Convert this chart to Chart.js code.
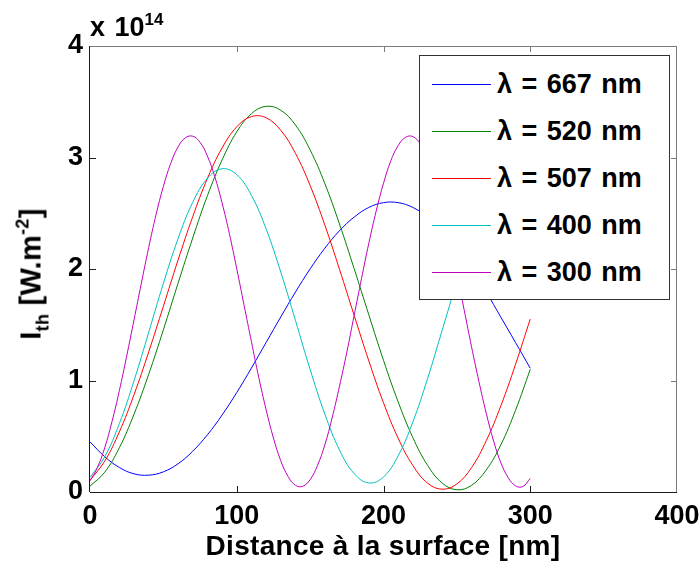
<!DOCTYPE html>
<html>
<head>
<meta charset="utf-8">
<script src="https://cdn.jsdelivr.net/npm/chart.js@4"></script>
<style>
    body { margin: 0; background: #fff; }
    #wrap { position: relative; width: 700px; height: 564px; font-family: 'Liberation Sans', Arial, Helvetica, sans-serif; font-weight: bold; color: #000; }
    #chart { position: absolute; left: 0; top: 0; }
    .lbl { position: absolute; white-space: nowrap; line-height: 1; }
    #ytitle { font-size: 29px; left: 31px; top: 274px; transform: translate(-50%, -50%) rotate(-90deg); letter-spacing: 0.3px; }
    #ytitle .sub { font-size: 18px; position: relative; top: 8px; }
    #ytitle .sup { font-size: 18px; position: relative; top: -12px; }
    #xtitle { font-size: 28px; left: 383px; top: 532px; transform: translateX(-50%); letter-spacing: 0.3px; }
    #expo { font-size: 27px; left: 90px; top: 14px; word-spacing: 2px; }
    #expo .sup { font-size: 17px; position: relative; top: -11px; }
    #legend { position: absolute; left: 419px; top: 55px; width: 249px; height: 243px; background: #fff; border: 1px solid #333; }
    .item { position: absolute; left: 0; height: 30px; width: 100%; }
    .item .ln { position: absolute; left: 12px; width: 59px; top: 14px; height: 1px; }
    .item .tx { position: absolute; left: 77px; top: 1px; font-size: 27px; line-height: 1; word-spacing: 2px; }
</style>
</head>
<body>
<div id="wrap">
    <canvas id="chart" width="700" height="564"></canvas>
    <div id="expo" class="lbl">x 10<span class="sup">14</span></div>
    <div id="ytitle" class="lbl">I<span class="sub">th</span> [W.m<span class="sup">-2</span>]</div>
    <div id="xtitle" class="lbl">Distance à la surface [nm]</div>
    <div id="legend"></div>
</div>
<script>
// Distance (nm)
const distance10 = [0, 10, 20, 30, 40, 50, 60, 70, 80, 90, 100, 110, 120, 130, 140, 150, 160, 170, 180, 190, 200, 210, 220, 230, 240, 250, 260, 270, 280, 290, 300];
const distance5 = [0, 5, 10, 15, 20, 25, 30, 35, 40, 45, 50, 55, 60, 65, 70, 75, 80, 85, 90, 95, 100, 105, 110, 115, 120, 125, 130, 135, 140, 145, 150, 155, 160, 165, 170, 175, 180, 185, 190, 195, 200, 205, 210, 215, 220, 225, 230, 235, 240, 245, 250, 255, 260, 265, 270, 275, 280, 285, 290, 295, 300];

// Ith en unites de 1e14 W.m-2
const ith667 = [0.450, 0.317, 0.220, 0.163, 0.151, 0.181, 0.253, 0.366, 0.513, 0.690, 0.892, 1.112, 1.341, 1.570, 1.793, 2.001, 2.186, 2.343, 2.465, 2.552, 2.595, 2.595, 2.552, 2.466, 2.344, 2.188, 2.005, 1.794, 1.567, 1.340, 1.110];
const ith520 = [0.053, 0.177, 0.397, 0.698, 1.056, 1.455, 1.872, 2.278, 2.657, 2.978, 3.230, 3.393, 3.459, 3.424, 3.291, 3.068, 2.767, 2.404, 2.003, 1.589, 1.181, 0.808, 0.488, 0.240, 0.080, 0.020, 0.060, 0.197, 0.424, 0.734, 1.100];
const ith507 = [0.105, 0.276, 0.539, 0.873, 1.256, 1.666, 2.080, 2.469, 2.812, 3.085, 3.275, 3.367, 3.356, 3.244, 3.037, 2.749, 2.395, 1.998, 1.584, 1.176, 0.800, 0.482, 0.238, 0.080, 0.025, 0.072, 0.219, 0.459, 0.774, 1.146, 1.551];
const ith400 = [0.131, 0.315, 0.613, 0.998, 1.432, 1.871, 2.272, 2.598, 2.813, 2.899, 2.846, 2.660, 2.360, 1.972, 1.539, 1.099, 0.700, 0.377, 0.165, 0.081, 0.135, 0.325, 0.628, 1.016, 1.451, 1.889, 2.288, 2.608, 2.818, 2.899, 2.841];
const ith300 = [0.100, 0.218, 0.395, 0.632, 0.909, 1.219, 1.544, 1.873, 2.193, 2.487,
    2.741, 2.947, 3.095, 3.177, 3.191, 3.136, 3.013, 2.830, 2.593, 2.316,
    2.002, 1.675, 1.348, 1.028, 0.739, 0.484, 0.280, 0.139, 0.060, 0.051,
    0.111, 0.237, 0.422, 0.665, 0.949, 1.253, 1.584, 1.913, 2.231, 2.519,
    2.769, 2.971, 3.107, 3.181, 3.188, 3.123, 2.996, 2.807, 2.563, 2.280,
    1.958, 1.631, 1.302, 0.992, 0.707, 0.458, 0.262, 0.128, 0.055, 0.049,
    0.122];

const xTicks = [0, 100, 200, 300, 400];
const yTicks = [0, 1, 2, 3, 4];

const SERIES = [
    { label: '\u03bb = 667 nm', color: '#0000ff', xs: distance10, ys: ith667 },
    { label: '\u03bb = 520 nm', color: '#008000', xs: distance10, ys: ith520 },
    { label: '\u03bb = 507 nm', color: '#ff0000', xs: distance10, ys: ith507 },
    { label: '\u03bb = 400 nm', color: '#00bfbf', xs: distance10, ys: ith400 },
    { label: '\u03bb = 300 nm', color: '#bf00bf', xs: distance5, ys: ith300 }
];

const FONT = "'Liberation Sans', Arial, Helvetica, sans-serif";

// Cadre + graduations vers l'interieur (style matlab)
const boxPlugin = {
    id: 'box',
    afterDatasetsDraw(chart) {
        const { ctx, chartArea: a, scales } = chart;
        ctx.save();
        ctx.lineWidth = 1;
        ctx.strokeStyle = '#7a7a7a';
        ctx.beginPath();
        ctx.moveTo(a.left, a.top + 0.5); ctx.lineTo(a.right, a.top + 0.5);
        ctx.moveTo(a.right - 0.5, a.top); ctx.lineTo(a.right - 0.5, a.bottom);
        xTicks.slice(1, -1).forEach(v => {
            const px = Math.round(scales.x.getPixelForValue(v)) + 0.5;
            ctx.moveTo(px, a.top); ctx.lineTo(px, a.top + 6);
        });
        yTicks.slice(1, -1).forEach(v => {
            const py = Math.round(scales.y.getPixelForValue(v)) + 0.5;
            ctx.moveTo(a.right, py); ctx.lineTo(a.right - 6, py);
        });
        ctx.stroke();
        ctx.strokeStyle = '#1a1a1a';
        ctx.beginPath();
        ctx.moveTo(a.left - 0.5, a.top); ctx.lineTo(a.left - 0.5, a.bottom);
        ctx.moveTo(a.left, a.bottom + 0.5); ctx.lineTo(a.right, a.bottom + 0.5);
        xTicks.slice(1, -1).forEach(v => {
            const px = Math.round(scales.x.getPixelForValue(v)) + 0.5;
            ctx.moveTo(px, a.bottom); ctx.lineTo(px, a.bottom - 6);
        });
        yTicks.slice(1, -1).forEach(v => {
            const py = Math.round(scales.y.getPixelForValue(v)) + 0.5;
            ctx.moveTo(a.left, py); ctx.lineTo(a.left + 6, py);
        });
        ctx.stroke();
        ctx.restore();
    }
};

const ctx = document.getElementById('chart').getContext('2d');
new Chart(ctx, {
    type: 'line',
    data: {
        datasets: SERIES.map((s, i) => ({
            label: s.label,
            data: s.xs.map((x, k) => ({ x: x, y: s.ys[k] })),
            borderColor: s.color,
            backgroundColor: s.color,
            borderWidth: 1,
            pointRadius: 0,
            fill: false,
            tension: 0.4,
            order: SERIES.length - i
        }))
    },
    options: {
        responsive: false,
        animation: false,
        layout: { padding: { left: 0, right: 23, top: 46, bottom: 0 } },
        plugins: {
            legend: { display: false },
            tooltip: { enabled: false }
        },
        scales: {
            x: {
                type: 'linear',
                min: 0,
                max: 400,
                afterFit: (scale) => { scale.height = 72; scale.paddingLeft = 0; scale.paddingRight = 0; },
                afterBuildTicks: (scale) => { scale.ticks = xTicks.map(v => ({ value: v })); },
                ticks: { color: '#000', padding: 8, maxRotation: 0, font: { family: FONT, size: 27, weight: 'bold' } },
                grid: { display: false, drawTicks: false },
                border: { display: false }
            },
            y: {
                min: 0,
                max: 4,
                afterFit: (scale) => { scale.width = 90; scale.paddingTop = 0; scale.paddingBottom = 0; },
                afterBuildTicks: (scale) => { scale.ticks = yTicks.map(v => ({ value: v })); },
                ticks: { color: '#000', padding: 7, font: { family: FONT, size: 27, weight: 'bold' } },
                grid: { display: false, drawTicks: false },
                border: { display: false }
            }
        }
    },
    plugins: [boxPlugin]
});

// Legende
const legend = document.getElementById('legend');
const rowTops = [14, 61, 108, 155, 202];
legend.innerHTML = SERIES.map((s, i) => `
    <div class="item" style="top:${rowTops[i]}px">
        <div class="ln" style="background:${s.color}"></div>
        <div class="tx">${s.label}</div>
    </div>`).join('');
</script>
</body>
</html>
